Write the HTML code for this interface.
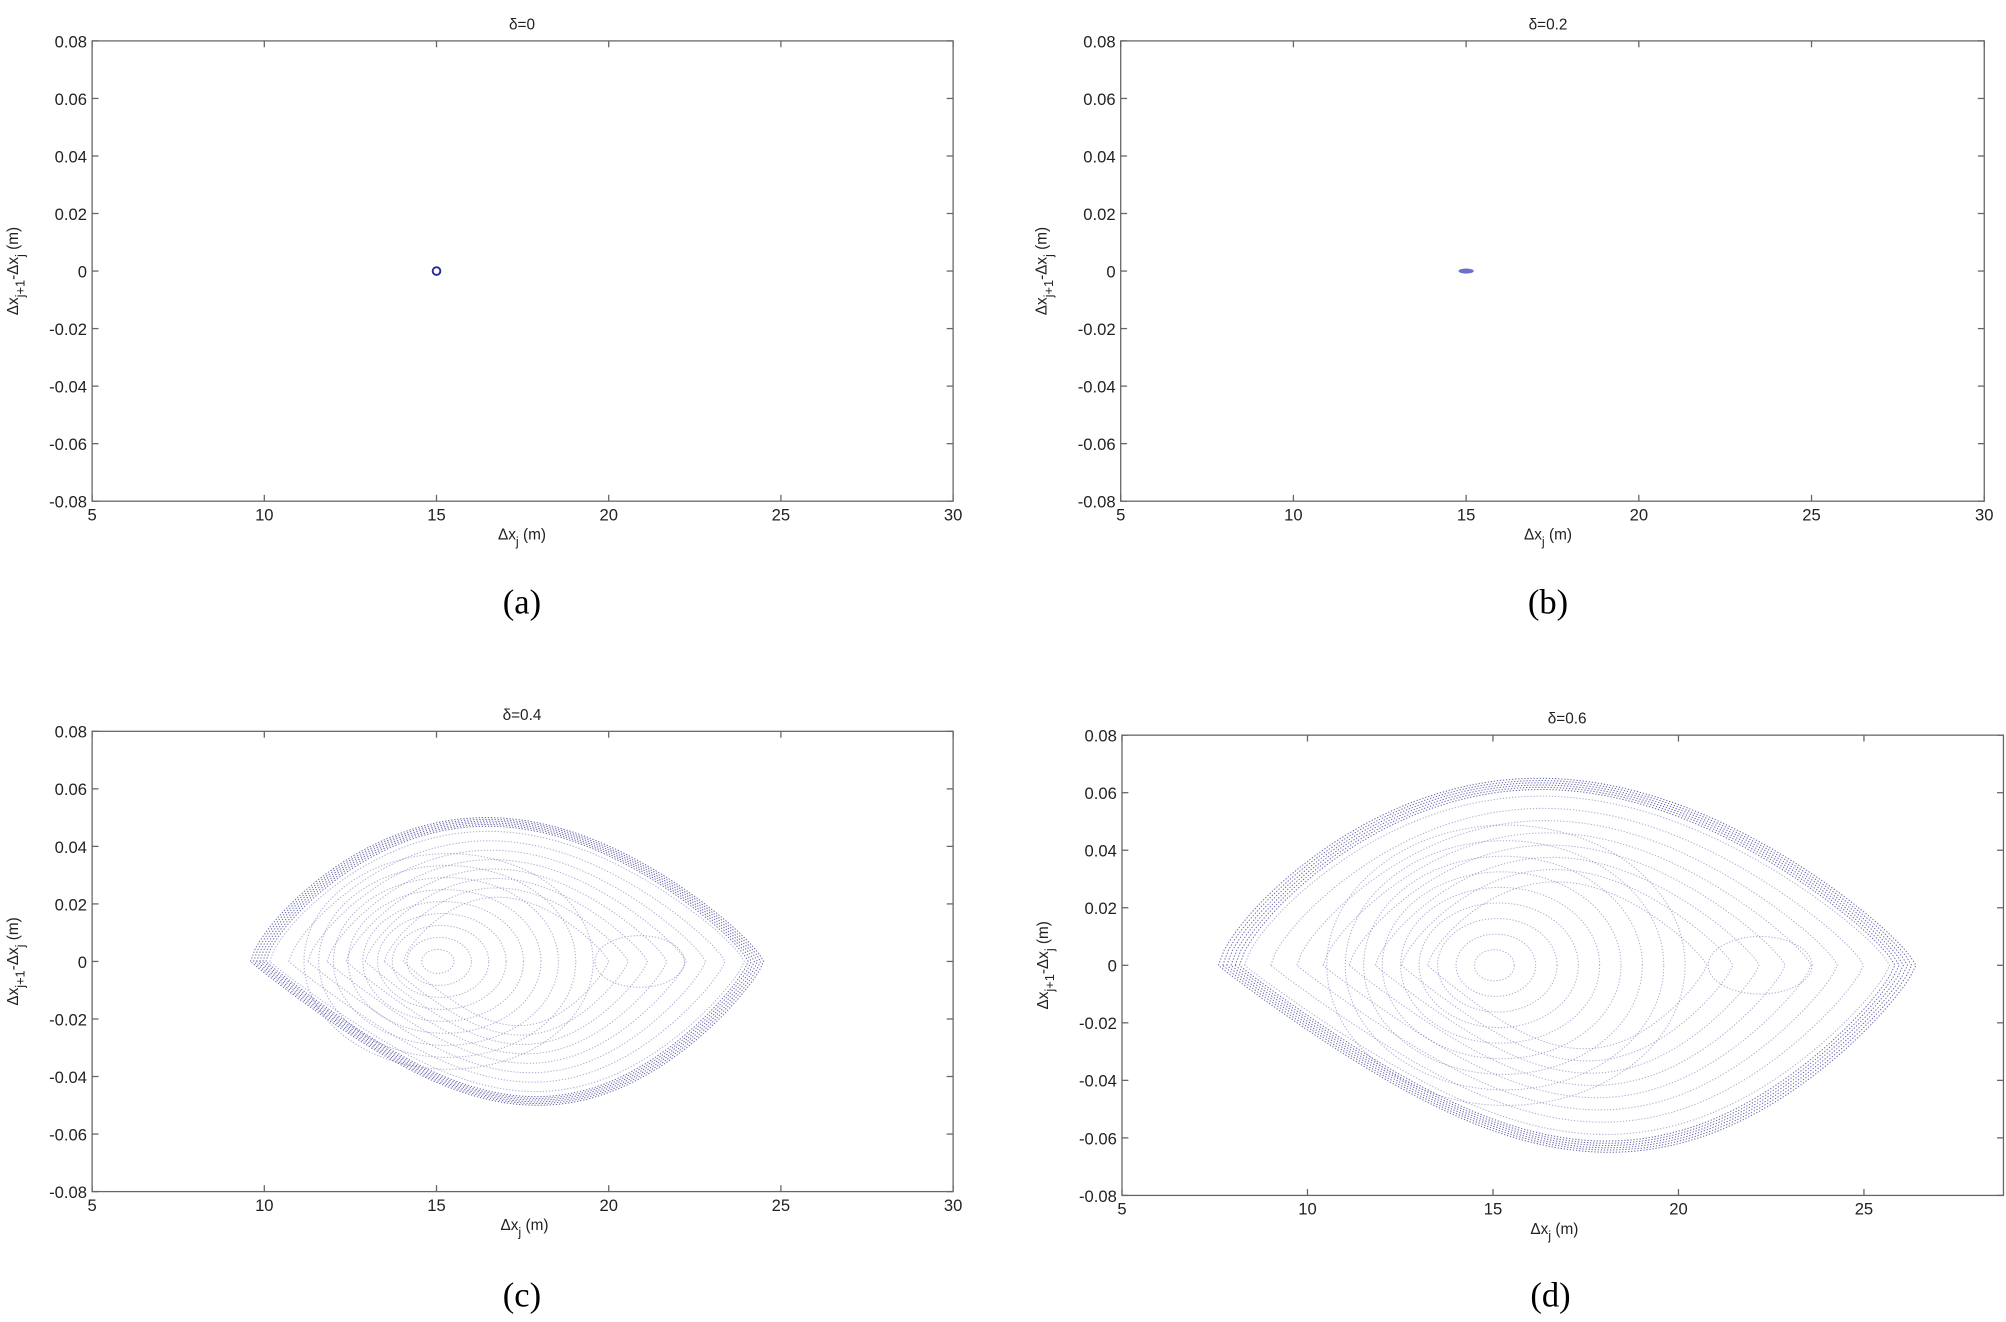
<!DOCTYPE html>
<html><head><meta charset="utf-8"><style>
html,body{margin:0;padding:0;background:#fff;}
svg{display:block;}
text{font-family:"Liberation Sans",sans-serif;fill:#222;}
.cap{font-family:"Liberation Serif",serif;font-size:27px;fill:#000;}
</style></head><body>
<svg id="s" width="2006" height="1322" viewBox="0 0 1568 1034" preserveAspectRatio="none" xmlns="http://www.w3.org/2000/svg">
<text class="cap" x="408" y="480" text-anchor="middle">(a)</text>
<text class="cap" x="1210" y="480" text-anchor="middle">(b)</text>
<text class="cap" x="408" y="1022" text-anchor="middle">(c)</text>
<text class="cap" x="1212" y="1022" text-anchor="middle">(d)</text>
</svg>
<script>
var S=document.getElementById('s'),NS='http://www.w3.org/2000/svg';
function el(t,a,txt){var e=document.createElementNS(NS,t);for(var k in a)e.setAttribute(k,a[k]);if(txt!==undefined)e.textContent=txt;S.appendChild(e);return e;}
function panel(p){
 var X=function(v){return p.L+(v-5)/(p.xmax-5)*(p.R-p.L);};
 var Y=function(v){return p.B-(v+0.08)/0.16*(p.B-p.T);};
 p.X=X;p.Y=Y;
 el('rect',{x:p.L,y:p.T,width:p.R-p.L,height:p.B-p.T,fill:'none',stroke:'#666','stroke-width':1});
 for(var v=5;v<=30;v+=5){if(v>p.xmax)break;var x=X(v);
  el('line',{x1:x,y1:p.B,x2:x,y2:p.B-5,stroke:'#666'});el('line',{x1:x,y1:p.T,x2:x,y2:p.T+5,stroke:'#666'});
  el('text',{x:x,y:p.B+15,'font-size':13,'text-anchor':'middle'},String(v));}
 for(var i=-4;i<=4;i++){var y=Y(i*0.02);
  el('line',{x1:p.L,y1:y,x2:p.L+5,y2:y,stroke:'#666'});el('line',{x1:p.R,y1:y,x2:p.R-5,y2:y,stroke:'#666'});
  var s=i==0?'0':(i*0.02).toFixed(2);
  el('text',{x:p.L-4,y:y+5,'font-size':13,'text-anchor':'end'},s);}
 el('text',{x:p.tx,y:p.T-9,'font-size':12,'text-anchor':'middle'},p.title);
 var g=el('text',{x:p.xl,y:p.B+30,'font-size':12,'text-anchor':'middle'});
 g.innerHTML='Δx<tspan dy="5" font-size="10">j</tspan><tspan dy="-5"> (m)</tspan>';
 var cy=(p.T+p.B)/2,h=el('text',{transform:'translate('+(p.L-58)+','+cy+') rotate(-90)','font-size':12,'text-anchor':'middle'});
 h.innerHTML='Δx<tspan dy="5" font-size="10">j+1</tspan><tspan dy="-5">-Δx</tspan><tspan dy="5" font-size="10">j</tspan><tspan dy="-5"> (m)</tspan>';
}
function path(pts,st){var d='M'+pts.map(function(q){return q[0].toFixed(1)+','+q[1].toFixed(1)}).join('L');
 el('path',{d:d,fill:'none',stroke:st.c||'#5a5aa8','stroke-width':st.w||0.8,'stroke-dasharray':'1 1.4',opacity:st.o||0.6});}
function eye(p,x0,x1,A,pu,pl,st){
 var ku=Math.log(0.5)/Math.log(pu),kl=Math.log(0.5)/Math.log(pl),pts=[];
 for(var i=0;i<=120;i++){var u=i/120;pts.push([p.X(x0+(x1-x0)*u),p.Y(A*Math.pow(Math.sin(Math.PI*Math.pow(u,ku)),0.8))]);}
 for(var i=120;i>=0;i--){var u=i/120;pts.push([p.X(x0+(x1-x0)*u),p.Y(-A*Math.pow(Math.sin(Math.PI*Math.pow(u,kl)),0.8))]);}
 path(pts,st);}
function ell(p,cx,cy,rx,ry,st){var pts=[];for(var i=0;i<=90;i++){var t=i/90*2*Math.PI;pts.push([p.X(cx+rx*Math.cos(t)),p.Y(cy+ry*Math.sin(t))]);}path(pts,st);}
var a={L:72,R:745,T:32,B:392,xmax:30,title:'δ=0',tx:408,xl:408};
var b={L:876,R:1551,T:32,B:392,xmax:30,title:'δ=0.2',tx:1210,xl:1210};
var c={L:72,R:745,T:572,B:932,xmax:30,title:'δ=0.4',tx:408,xl:410};
var d={L:877,R:1566,T:575,B:935,xmax:28.76,title:'δ=0.6',tx:1225,xl:1215};
[a,b,c,d].forEach(panel);
el('circle',{cx:a.X(15),cy:a.Y(0),r:3,fill:'none',stroke:'#2a2a9a','stroke-width':1.5});
el('ellipse',{cx:b.X(15),cy:b.Y(0),rx:6,ry:2,fill:'#4a4ac0',opacity:0.8});
function fill(p,x0,x1,A,cx,sm){
 for(var i=0;i<6;i++){var s=1-i*0.012;eye(p,cx+(x0-cx)*s,cx+(x1-cx)*s,A*s,0.46,0.56,{o:0.85,c:'#4a4a9a'});}
 for(var i=1;i<9;i++){var s=1-i*0.075;eye(p,cx+(x0-cx)*s,cx+(x1-cx)*s,A*(s*0.9+0.1)*0.97,0.46,0.56,{o:0.5});}
 for(var i=1;i<=9;i++){var r=i/9;ell(p,15+0.35*r,0,sm*4.2*r,A*0.75*r,{o:0.5});}
}
fill(c,9.6,24.5,0.05,17,1);
ell(c,20.9,0,1.3,0.009,{o:0.5});
fill(d,7.6,26.4,0.065,17,1.15);
ell(d,22.2,0,1.4,0.01,{o:0.5});
</script>
</body></html>
